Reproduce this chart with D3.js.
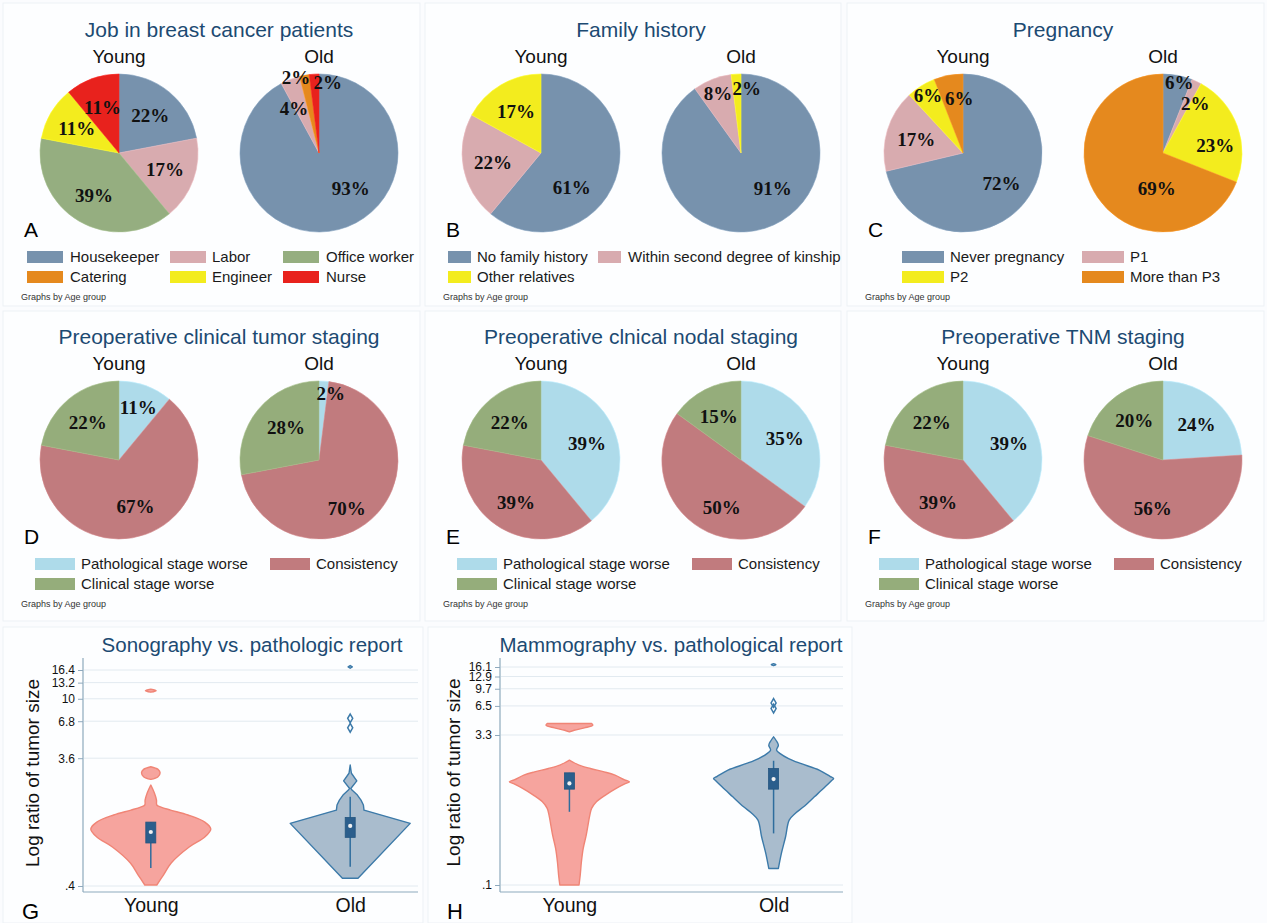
<!DOCTYPE html>
<html>
<head>
<meta charset="utf-8">
<script src="https://cdn.jsdelivr.net/npm/d3@7"></script>
<style>
  html, body { margin: 0; padding: 0; background: #fbfcfe; }
  svg { display: block; }
</style>
</head>
<body>
<svg id="fig" width="1267" height="923"></svg>
<script>
// ---------------- data ----------------
const ageGroups = ["Young", "Old"];

const jobCategories = ["Housekeeper", "Labor", "Office worker", "Catering", "Engineer", "Nurse"];
const jobYoung = [22, 17, 39, 0, 11, 11];
const jobOld = [93, 4, 0, 2, 0, 2];

const familyCategories = ["No family history", "Within second degree of kinship", "Other relatives"];
const familyYoung = [61, 22, 17];
const familyOld = [91, 8, 2];

const pregnancyCategories = ["Never pregnancy", "P1", "P2", "More than P3"];
const pregnancyYoung = [72, 17, 6, 6];
const pregnancyOld = [6, 2, 23, 69];

const stagingCategories = ["Pathological stage worse", "Consistency", "Clinical stage worse"];
const tumorYoung = [11, 67, 22];
const tumorOld = [2, 70, 28];
const nodalYoung = [39, 39, 22];
const nodalOld = [35, 50, 15];
const tnmYoung = [39, 39, 22];
const tnmOld = [24, 56, 20];

// tumour-size ratio (imaging / pathology): density outline segments [ratio, relative density]
const sonoTicks = [0.4, 3.6, 6.8, 10, 13.2, 16.4];
const sonoYoungDensity = [
  [[0.407, 0.10], [0.483, 0.21], [0.594, 0.34], [0.782, 0.64], [0.928, 0.90], [1.065, 1.0], [1.20, 0.90],
   [1.355, 0.62], [1.476, 0.33], [1.554, 0.17], [1.61, 0.10], [1.75, 0.095], [1.98, 0.06], [2.27, 0]],
  [[2.50, 0], [2.62, 0.12], [2.80, 0.155], [2.97, 0.12], [3.11, 0]],
  [[11.2, 0], [11.5, 0.09], [11.8, 0]]
];
const sonoYoungBox = [0.545, 0.838, 1.012, 1.20, 1.20];   // low whisker, q1, median, q3, high whisker
const sonoYoungOutliers = [];
const sonoOldDensity = [
  [[0.457, 0.13], [1.174, 1.0], [1.476, 0.23], [1.61, 0.22], [1.75, 0.18], [1.91, 0.12], [2.08, 0.03],
   [2.14, 0.01], [2.44, 0.11], [2.78, 0.02], [3.2, 0]],
  [[16.9, 0], [17.3, 0.035], [17.7, 0]]
];
const sonoOldBox = [0.557, 0.923, 1.124, 1.30, 1.855];
const sonoOldOutliers = [6.07, 7.14];

const mammoTicks = [0.1, 3.3, 6.5, 9.7, 12.9, 16.1];
const mammoYoungDensity = [
  [[0.1, 0.16], [0.126, 0.18], [0.172, 0.20], [0.235, 0.23], [0.320, 0.28], [0.404, 0.31], [0.510, 0.34],
   [0.596, 0.37], [0.695, 0.45], [0.813, 0.60], [0.950, 0.78], [1.06, 0.93], [1.108, 1.0], [1.16, 0.92],
   [1.294, 0.76], [1.398, 0.58], [1.512, 0.35], [1.634, 0.16], [1.764, 0.05], [1.835, 0]],
  [[3.55, 0], [3.69, 0.08], [3.89, 0.25], [4.14, 0.39], [4.31, 0.37]]
];
const mammoYoungBox = [0.551, 0.934, 1.067, 1.366, 1.366];
const mammoYoungOutliers = [];
const mammoOldDensity = [
  [[0.147, 0.08], [0.209, 0.13], [0.308, 0.20], [0.454, 0.26], [0.530, 0.36], [0.619, 0.50], [0.781, 0.68],
   [0.986, 0.86], [1.13, 0.96], [1.198, 1.0], [1.26, 0.94], [1.455, 0.76], [1.70, 0.45], [1.907, 0.25],
   [2.14, 0.11], [2.32, 0.05], [2.60, 0.08], [2.92, 0.04], [3.16, 0]],
  [[16.6, 0], [17.0, 0.04], [17.4, 0]]
];
const mammoOldBox = [0.333, 0.934, 1.18, 1.51, 1.81];
const mammoOldOutliers = [6.11, 6.97];

// ---------------- styles ----------------
const SANS = "'Liberation Sans', Arial, Helvetica, sans-serif";
const SERIF = "'Liberation Serif', 'Times New Roman', serif";
const TITLE_COLOR = "#1c4a72";

const cBlue = "#7792ad", cPink = "#d8abaf", cGreen = "#95ae80", cOrange = "#e5891e",
      cYellow = "#f3ec1e", cRed = "#e8221d";
const jobColors = [cBlue, cPink, cGreen, cOrange, cYellow, cRed];
const familyColors = [cBlue, cPink, cYellow];
const pregnancyColors = [cBlue, cPink, cYellow, cOrange];
const stagingColors = ["#aedbea", "#c17b7e", "#95ad7b"];

const svg = d3.select("#fig");

// panel frames
const frames = [
  [3, 3, 417, 303], [425, 3, 416, 303], [847, 3, 417, 303],
  [3, 311, 417, 310], [425, 311, 416, 310], [847, 311, 417, 310],
  [3, 627, 420, 296], [428, 627, 424, 296]
];
svg.selectAll("rect.frame").data(frames).join("rect")
  .attr("class", "frame")
  .attr("x", d => d[0]).attr("y", d => d[1]).attr("width", d => d[2]).attr("height", d => d[3])
  .attr("fill", "#fdfeff").attr("stroke", "#edf1f5").attr("stroke-width", 1);

// ---------------- pie panels ----------------
// label placement override: [angle in degrees clockwise from 12 o'clock, fraction of radius]
const labelPolar = {
  "A-Old": {0: [138, 0.6], 1: [331, 0.65], 3: [343, 1.0], 5: [7, 0.9]},
  "B-Young": {0: [138, 0.58]},
  "B-Old": {0: [138, 0.6], 1: [339, 0.81], 2: [5, 0.83]},
  "C-Young": {2: [329, 0.86], 3: [356, 0.7]},
  "C-Old": {0: [13, 0.92], 1: [33, 0.75], 2: [81, 0.67], 3: [190, 0.45]},
  "D-Young": {0: [20, 0.71]},
  "D-Old": {0: [10, 0.86], 1: [150, 0.70], 2: [315, 0.59]},
  "E-Old": {1: [202, 0.65]},
  "F-Old": {1: [192, 0.62]}
};

const piePanels = [
  {id: "A", title: "Job in breast cancer patients", cats: jobCategories, colors: jobColors,
   values: [jobYoung, jobOld], x0: 1, y0: 0, legendCols: [[26, 69], [169, 211], [282, 325]], swatchW: 36},
  {id: "B", title: "Family history", cats: familyCategories, colors: familyColors,
   values: [familyYoung, familyOld], x0: 423, y0: 0, legendCols: [[25, 54], [175, 205]], swatchW: 23},
  {id: "C", title: "Pregnancy", cats: pregnancyCategories, colors: pregnancyColors,
   values: [pregnancyYoung, pregnancyOld], x0: 845, y0: 0, legendCols: [[57, 105], [237, 285]], swatchW: 42},
  {id: "D", title: "Preoperative clinical tumor staging", cats: stagingCategories, colors: stagingColors,
   values: [tumorYoung, tumorOld], x0: 1, y0: 307, legendCols: [[34, 80], [269, 315]], swatchW: 40},
  {id: "E", title: "Preoperative clnical nodal staging", cats: stagingCategories, colors: stagingColors,
   values: [nodalYoung, nodalOld], x0: 423, y0: 307, legendCols: [[34, 80], [269, 315]], swatchW: 40},
  {id: "F", title: "Preoperative TNM staging", cats: stagingCategories, colors: stagingColors,
   values: [tnmYoung, tnmOld], x0: 845, y0: 307, legendCols: [[34, 80], [269, 315]], swatchW: 40}
];

const pieR = 79;
const pieCx = [118, 318], pieCy = 153;
const pie = d3.pie().sort(null).value(d => d.value).startAngle(0).endAngle(2 * Math.PI);
const arc = d3.arc().innerRadius(0).outerRadius(pieR);

piePanels.forEach(p => {
  const g = svg.append("g").attr("transform", `translate(${p.x0},${p.y0})`);

  g.append("text").attr("x", 218).attr("y", 37).attr("text-anchor", "middle")
    .attr("font-family", SANS).attr("font-size", 21).attr("fill", TITLE_COLOR).text(p.title);

  ageGroups.forEach((grp, gi) => {
    const cx = pieCx[gi];
    g.append("text").attr("x", cx).attr("y", 63).attr("text-anchor", "middle")
      .attr("font-family", SANS).attr("font-size", 19).attr("fill", "#111").text(grp);

    const slices = pie(p.values[gi].map((v, i) => ({value: v, i})));
    const pg = g.append("g").attr("transform", `translate(${cx},${pieCy})`);
    pg.selectAll("path").data(slices.filter(s => s.data.value > 0)).join("path")
      .attr("d", arc).attr("fill", s => p.colors[s.data.i])
      .attr("stroke", s => d3.color(p.colors[s.data.i]).brighter(0.25)).attr("stroke-width", 0.6);

    const over = labelPolar[`${p.id}-${grp}`] || {};
    pg.selectAll("text").data(slices.filter(s => s.data.value > 0)).join("text")
      .attr("transform", s => {
        const o = over[s.data.i];
        const ang = o ? o[0] * Math.PI / 180 : (s.startAngle + s.endAngle) / 2;
        const rr = (o ? o[1] : 0.62) * pieR;
        return `translate(${rr * Math.sin(ang)},${-rr * Math.cos(ang)})`;
      })
      .attr("text-anchor", "middle").attr("dy", "0.36em")
      .attr("font-family", SERIF).attr("font-weight", "bold").attr("font-size", 19).attr("fill", "#111")
      .text(s => s.data.value + "%");
  });

  g.append("text").attr("x", 23).attr("y", 237)
    .attr("font-family", SANS).attr("font-size", 21).attr("fill", "#000").text(p.id);

  const nc = p.legendCols.length;
  const rowsY = [257, 277];
  p.cats.forEach((c, i) => {
    const col = p.legendCols[i % nc];
    const yy = rowsY[Math.floor(i / nc)];
    g.append("rect").attr("x", col[0]).attr("y", yy - 6).attr("width", p.swatchW).attr("height", 12)
      .attr("fill", p.colors[i]);
    g.append("text").attr("x", col[1]).attr("y", yy).attr("dy", "0.36em")
      .attr("font-family", SANS).attr("font-size", 15).attr("fill", "#1a1a1a").text(c);
  });

  g.append("text").attr("x", 20).attr("y", 300)
    .attr("font-family", SANS).attr("font-size", 9).attr("fill", "#333").text("Graphs by Age group");
});

// ---------------- violin panels ----------------
const smooth = d3.curveCatmullRom.alpha(0.5);
const violinPanels = [
  {id: "G", title: "Sonography vs. pathologic report", titleX: 252, ticks: sonoTicks,
   left: 83, right: 418, top: 658, bottom: 892, tickBottom: 886, tickTop: 670,
   yTitleX: 32, letterX: 22,
   series: [
     {group: "Young", density: sonoYoungDensity, box: sonoYoungBox, outliers: sonoYoungOutliers, curve: smooth},
     {group: "Old", density: sonoOldDensity, box: sonoOldBox, outliers: sonoOldOutliers, curve: d3.curveLinear}
   ]},
  {id: "H", title: "Mammography vs. pathological report", titleX: 671, ticks: mammoTicks,
   left: 500, right: 843, top: 658, bottom: 892, tickBottom: 885, tickTop: 667,
   yTitleX: 453, letterX: 447,
   series: [
     {group: "Young", density: mammoYoungDensity, box: mammoYoungBox, outliers: mammoYoungOutliers, curve: smooth},
     {group: "Old", density: mammoOldDensity, box: mammoOldBox, outliers: mammoOldOutliers, curve: smooth}
   ]}
];

const violinStyle = {
  Young: {fill: "#f6a49e", stroke: "#f08576"},
  Old: {fill: "#a9bccd", stroke: "#3c7aa9"}
};
const AXIS_COLOR = "#8ea9bd";
const fmtTick = d => d < 1 ? String(d).replace(/^0/, "") : String(d);

violinPanels.forEach(vp => {
  const g = svg.append("g");
  const x = d3.scalePoint().domain(ageGroups).range([vp.left, vp.right]).padding(0.34);
  const y = d3.scaleLog().domain([vp.ticks[0], vp.ticks[vp.ticks.length - 1]]).range([vp.tickBottom, vp.tickTop]);
  const w = d3.scaleLinear().domain([0, 1]).range([0, 60]);

  g.append("text").attr("x", vp.titleX).attr("y", 652).attr("text-anchor", "middle")
    .attr("font-family", SANS).attr("font-size", 20.5).attr("fill", TITLE_COLOR).text(vp.title);

  // grid
  g.selectAll("line.grid").data(vp.ticks).join("line").attr("class", "grid")
    .attr("x1", vp.left + 1).attr("x2", vp.right).attr("y1", d => y(d)).attr("y2", d => y(d))
    .attr("stroke", "#e2eaf0").attr("stroke-width", 1);

  // y axis
  const ya = g.append("g").attr("transform", `translate(${vp.left},0)`)
    .call(d3.axisLeft(y).tickValues(vp.ticks).tickFormat(fmtTick).tickSize(5).tickPadding(3));
  ya.select(".domain").remove();
  ya.selectAll("line").attr("stroke", AXIS_COLOR);
  ya.selectAll("text").attr("font-family", SANS).attr("font-size", 12).attr("fill", "#111");

  g.append("line").attr("x1", vp.left).attr("x2", vp.left).attr("y1", vp.top).attr("y2", vp.bottom)
    .attr("stroke", AXIS_COLOR).attr("stroke-width", 1.2);

  // x axis
  const xa = g.append("g").attr("transform", `translate(0,${vp.bottom})`)
    .call(d3.axisBottom(x).tickSize(0).tickPadding(6));
  xa.select(".domain").attr("stroke", AXIS_COLOR).attr("stroke-width", 1.2)
    .attr("d", `M${vp.left},0H${vp.right}`);
  xa.selectAll("text").attr("font-family", SANS).attr("font-size", 19.5).attr("fill", "#111");

  g.append("text")
    .attr("transform", `translate(${vp.yTitleX},${(vp.tickBottom + vp.top) / 2 + 1}) rotate(-90)`)
    .attr("text-anchor", "middle").attr("dy", "0.36em")
    .attr("font-family", SANS).attr("font-size", 19).attr("fill", "#111").text("Log ratio of tumor size");

  g.append("text").attr("x", vp.letterX).attr("y", 919)
    .attr("font-family", SANS).attr("font-size", 22).attr("fill", "#000").text(vp.id);

  vp.series.forEach(s => {
    const cx = x(s.group);
    const st = violinStyle[s.group];
    const area = d3.area()
      .y(d => y(d[0])).x0(d => cx - w(d[1])).x1(d => cx + w(d[1])).curve(s.curve);
    s.density.forEach(seg => {
      g.append("path").attr("d", area(seg))
        .attr("fill", st.fill).attr("stroke", st.stroke).attr("stroke-width", 1.4)
        .attr("stroke-linejoin", "round");
    });
    const [lo, q1, med, q3, hi] = s.box;
    g.append("line").attr("x1", cx).attr("x2", cx).attr("y1", y(lo)).attr("y2", y(hi))
      .attr("stroke", "#2f6d9d").attr("stroke-width", 1.5);
    g.append("rect").attr("x", cx - 5).attr("width", 10).attr("y", y(q3)).attr("height", y(q1) - y(q3))
      .attr("fill", "#2b5e8c").attr("stroke", "#24557f").attr("stroke-width", 0.8);
    g.append("circle").attr("cx", cx).attr("cy", y(med)).attr("r", 2.1).attr("fill", "#f1f1f1");
    g.selectAll(null).data(s.outliers).join("path")
      .attr("d", d3.symbol(d3.symbolDiamond, 22))
      .attr("transform", d => `translate(${cx},${y(d)})`)
      .attr("fill", "none").attr("stroke", st.stroke).attr("stroke-width", 1.5);
  });
});
</script>
</body>
</html>
